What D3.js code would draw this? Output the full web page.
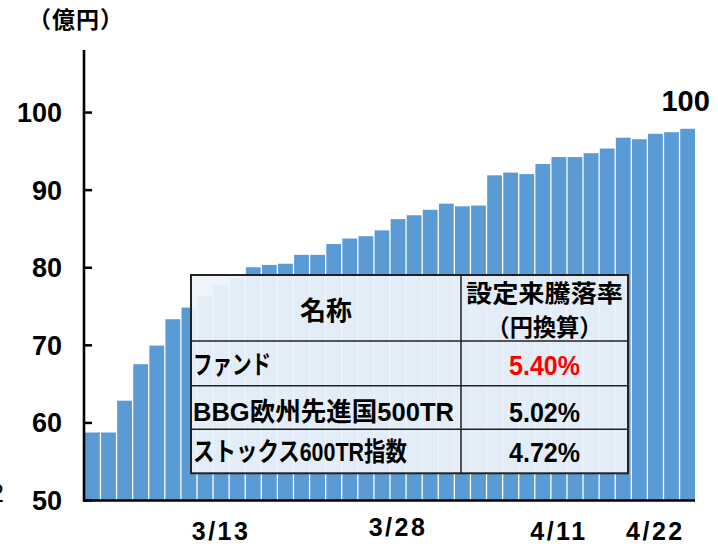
<!DOCTYPE html>
<html>
<head>
<meta charset="utf-8">
<script src="https://cdn.jsdelivr.net/npm/d3@7"></script>
<style>
  body { margin: 0; background: #fff; }
  svg { display: block; }
</style>
</head>
<body>
<div id="grafica"></div>
<script>
// datos
const categories = [
  '3/1', '3/4', '3/5', '3/6', '3/7', '3/8', '3/11', '3/12', '3/13', '3/14',
  '3/15', '3/18', '3/19', '3/20', '3/21', '3/22', '3/25', '3/26', '3/27', '3/28',
  '3/29', '4/1', '4/2', '4/3', '4/4', '4/5', '4/8', '4/9', '4/10', '4/11',
  '4/12', '4/15', '4/16', '4/17', '4/18', '4/22', '4/23', '4/24'
]
const values = [
  58.7, 58.7, 62.8, 67.5, 69.9, 73.3, 74.8, 76.3, 77.7, 78.6,
  80.0, 80.3, 80.45, 81.6, 81.6, 83.0, 83.7, 84.0, 84.75, 86.2,
  86.7, 87.4, 88.2, 87.85, 87.95, 91.85, 92.2, 92.0, 93.3, 94.2,
  94.2, 94.7, 95.3, 96.7, 96.5, 97.2, 97.4, 97.85
]
const yTicks = [50, 60, 70, 80, 90, 100]
const xTickLabels = ['3/13', '3/28', '4/11', '4/22']
const lastLabel = '100'

const tableHeader = ['名称', '設定来騰落率', '（円換算）']
const tableNames = ['ファンド', 'BBG欧州先進国500TR', 'ストックス600TR指数']
const tableValues = ['5.40%', '5.02%', '4.72%']

const svgWidth = 718
const svgHeight = 546
const margin = { top: 50, right: 23, bottom: 46, left: 85 }

const latin = '"Liberation Sans", Arial, "Noto Sans CJK JP", sans-serif'
const cjk = '"Noto Sans CJK JP", "Liberation Sans", sans-serif'
const barColor = '#5b9bd5'

const scaleX = d3.scaleBand()
    .domain(categories)
    .range([margin.left, svgWidth - margin.right])
    .paddingInner(0.08)
    .paddingOuter(0)

const scaleY = d3.scaleLinear()
    .domain([50, 108])
    .range([svgHeight - margin.bottom, margin.top])

const svg = d3.select('#grafica')
    .append('svg')
    .attr('width', svgWidth)
    .attr('height', svgHeight)

// barras
svg.selectAll('.bar')
    .data(values)
    .enter()
    .append('rect')
    .attr('class', 'bar')
    .attr('x', (d, i) => scaleX(categories[i]))
    .attr('y', d => scaleY(d))
    .attr('width', scaleX.bandwidth())
    .attr('height', d => scaleY(50) - scaleY(d))
    .style('fill', barColor)

// etiqueta del ultimo valor
svg.append('text')
    .attr('x', scaleX(categories[categories.length - 1]) + scaleX.bandwidth() / 2 - 2)
    .attr('y', scaleY(values[values.length - 1]) - 18)
    .attr('text-anchor', 'middle')
    .style('font-family', latin)
    .style('font-weight', 'bold')
    .style('font-size', '29px')
    .text(lastLabel)

// eje Y
const axisY = d3.axisRight(scaleY)
    .tickValues(yTicks)
    .tickSize(8)
    .tickFormat('')
const gy = svg.append('g')
    .attr('transform', `translate(${margin.left - 1},0)`)
    .call(axisY)
gy.select('.domain').remove()
gy.selectAll('.tick line').attr('stroke', '#000').attr('stroke-width', 2.5)
svg.append('line')
    .attr('x1', margin.left - 1).attr('x2', margin.left - 1)
    .attr('y1', scaleY(108)).attr('y2', scaleY(50) + 1.5)
    .attr('stroke', '#000').attr('stroke-width', 2.6)

svg.selectAll('.ylab')
    .data(yTicks)
    .enter()
    .append('text')
    .attr('class', 'ylab')
    .attr('x', 62)
    .attr('y', d => scaleY(d) + 10)
    .attr('text-anchor', 'end')
    .style('font-family', latin)
    .style('font-weight', 'bold')
    .style('font-size', '27px')
    .text(d => d)

// eje X
svg.append('line')
    .attr('x1', margin.left - 2).attr('x2', svgWidth - margin.right)
    .attr('y1', scaleY(50) + 0.5).attr('y2', scaleY(50) + 0.5)
    .attr('stroke', '#000').attr('stroke-width', 2.6)

const labelNudge = { '3/28': -4 }
svg.selectAll('.xlab')
    .data(xTickLabels)
    .enter()
    .append('text')
    .attr('class', 'xlab')
    .attr('x', d => scaleX(d) + scaleX.bandwidth() / 2)
    .attr('y', d => 540 + (labelNudge[d] || 0))
    .attr('text-anchor', 'middle')
    .style('font-family', latin)
    .style('font-weight', 'bold')
    .style('font-size', '25px')
    .style('letter-spacing', '2.5px')
    .text(d => d)

// unidad
svg.append('text')
    .attr('x', 28)
    .attr('y', 28)
    .style('font-family', cjk)
    .style('font-weight', 'bold')
    .style('font-size', '23px')
    .style('letter-spacing', '1px')
    .text('（億円）')

// trozo de texto cortado a la izquierda
svg.append('text')
    .attr('x', 4)
    .attr('y', 502)
    .attr('text-anchor', 'end')
    .style('font-family', latin)
    .style('font-size', '26px')
    .text('2')

// tabla
const tb = { x0: 191, x1: 461, x2: 628, y0: 275, rows: [341, 385.7, 429.3, 473.3] }
const table = svg.append('g')

table.append('rect')
    .attr('x', tb.x0).attr('y', tb.y0)
    .attr('width', tb.x2 - tb.x0).attr('height', tb.rows[3] - tb.y0)
    .style('fill', '#eef3fa')
    .style('fill-opacity', 0.93)
    .style('stroke', '#222')
    .style('stroke-width', 2)

tb.rows.slice(0, 3).forEach(y => {
    table.append('line')
        .attr('x1', tb.x0).attr('x2', tb.x2)
        .attr('y1', y).attr('y2', y)
        .attr('stroke', '#222').attr('stroke-width', 1.5)
})
table.append('line')
    .attr('x1', tb.x1).attr('x2', tb.x1)
    .attr('y1', tb.y0).attr('y2', tb.rows[3])
    .attr('stroke', '#222').attr('stroke-width', 1.5)

table.append('text')
    .attr('x', (tb.x0 + tb.x1) / 2)
    .attr('y', 320)
    .attr('text-anchor', 'middle')
    .style('font-family', cjk)
    .style('font-weight', 'bold')
    .style('font-size', '26px')
    .text(tableHeader[0])

table.append('text')
    .attr('x', (tb.x1 + tb.x2) / 2)
    .attr('y', 302)
    .attr('text-anchor', 'middle')
    .style('font-family', cjk)
    .style('font-weight', 'bold')
    .style('font-size', '24px')
    .attr('textLength', 157)
    .attr('lengthAdjust', 'spacingAndGlyphs')
    .text(tableHeader[1])

table.append('text')
    .attr('x', (tb.x1 + tb.x2) / 2)
    .attr('y', 336)
    .attr('text-anchor', 'middle')
    .style('font-family', cjk)
    .style('font-weight', 'bold')
    .style('font-size', '24px')
    .attr('textLength', 116)
    .attr('lengthAdjust', 'spacingAndGlyphs')
    .text(tableHeader[2])

const nameWidths = [78, 261, 214]
const baselines = [374, 421, 461]
table.selectAll('.tname')
    .data(tableNames)
    .enter()
    .append('text')
    .attr('class', 'tname')
    .attr('x', 193)
    .attr('y', (d, i) => baselines[i])
    .attr('textLength', (d, i) => nameWidths[i])
    .attr('lengthAdjust', 'spacingAndGlyphs')
    .style('font-family', latin)
    .style('font-weight', 'bold')
    .style('font-size', '26px')
    .text(d => d)

table.selectAll('.tval')
    .data(tableValues)
    .enter()
    .append('text')
    .attr('class', 'tval')
    .attr('x', (tb.x1 + tb.x2) / 2)
    .attr('y', (d, i) => baselines[i] + 1)
    .attr('text-anchor', 'middle')
    .attr('textLength', 71)
    .attr('lengthAdjust', 'spacingAndGlyphs')
    .style('font-family', latin)
    .style('font-weight', 'bold')
    .style('font-size', '27px')
    .style('fill', (d, i) => i === 0 ? '#ff0000' : '#000')
    .text(d => d)
</script>
</body>
</html>
